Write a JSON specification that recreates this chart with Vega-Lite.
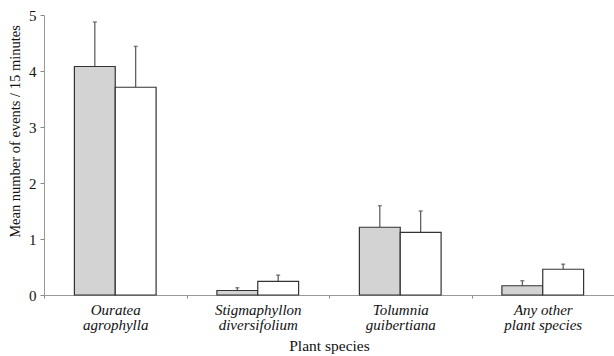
{
  "$schema": "https://vega.github.io/schema/vega-lite/v6.json",
  "width": 570,
  "height": 280,
  "autosize": {"type": "none"},
  "padding": {"left": 44, "top": 15, "right": 0, "bottom": 61},
  "background": "white",
  "config": {
    "view": {"stroke": null},
    "font": "Liberation Serif",
    "axis": {"labelFont": "Liberation Serif", "titleFont": "Liberation Serif", "labelColor": "#111", "titleColor": "#111", "titleFontWeight": "normal", "grid": false}
  },
  "data": {
    "values": [
      {"species": "Ouratea|agrophylla", "group": "A", "mean": 4.08, "upper": 4.875},
      {"species": "Ouratea|agrophylla", "group": "B", "mean": 3.71, "upper": 4.44},
      {"species": "Stigmaphyllon|diversifolium", "group": "A", "mean": 0.08, "upper": 0.13},
      {"species": "Stigmaphyllon|diversifolium", "group": "B", "mean": 0.245, "upper": 0.355},
      {"species": "Tolumnia|guibertiana", "group": "A", "mean": 1.21, "upper": 1.595},
      {"species": "Tolumnia|guibertiana", "group": "B", "mean": 1.12, "upper": 1.5},
      {"species": "Any other|plant species", "group": "A", "mean": 0.165, "upper": 0.255},
      {"species": "Any other|plant species", "group": "B", "mean": 0.46, "upper": 0.55}
    ]
  },
  "encoding": {
    "x": {
      "field": "species", "type": "nominal", "sort": null,
      "scale": {"paddingInner": 0, "paddingOuter": 0},
      "axis": {
        "title": "Plant species", "titleFontSize": 15.5, "titlePadding": 6,
        "labelAngle": 0, "labelFontSize": 15, "labelLineHeight": 15, "labelPadding": 4,
        "labelExpr": "split(datum.label, '|')",
        "labelFontStyle": "italic",
        "tickBand": "extent", "tickSize": 3, "tickColor": "#888", "domainColor": "#999"
      }
    },
    "xOffset": {"field": "group", "type": "nominal", "scale": {"paddingInner": 0, "paddingOuter": 0.744}}
  },
  "layer": [
    {
      "mark": {"type": "rule", "color": "#555", "strokeWidth": 1.2},
      "encoding": {
        "y": {"field": "mean", "type": "quantitative"},
        "y2": {"field": "upper"}
      }
    },
    {
      "mark": {"type": "tick", "color": "#555", "size": 4, "thickness": 1.5, "orient": "horizontal"},
      "encoding": {
        "y": {"field": "upper", "type": "quantitative"}
      }
    },
    {
      "mark": {"type": "bar", "stroke": "#333", "strokeWidth": 1.2},
      "encoding": {
        "y": {
          "field": "mean", "type": "quantitative",
          "scale": {"domain": [0, 5], "nice": false},
          "axis": {
            "title": "Mean number of events / 15 minutes", "titleFontSize": 14.5,
            "titleX": -22, "titleY": 116, "format": ".0f",
            "values": [0, 0.5, 1, 1.5, 2, 2.5, 3, 3.5, 4, 4.5, 5],
            "labelExpr": "datum.value % 1 == 0 ? datum.label : ''",
            "labelFontSize": 15, "labelPadding": 4,
            "tickSize": 4, "tickColor": "#888", "domainColor": "#999"
          }
        },
        "fill": {"field": "group", "type": "nominal", "scale": {"domain": ["A", "B"], "range": ["#d3d3d3", "#ffffff"]}, "legend": null}
      }
    }
  ]
}
